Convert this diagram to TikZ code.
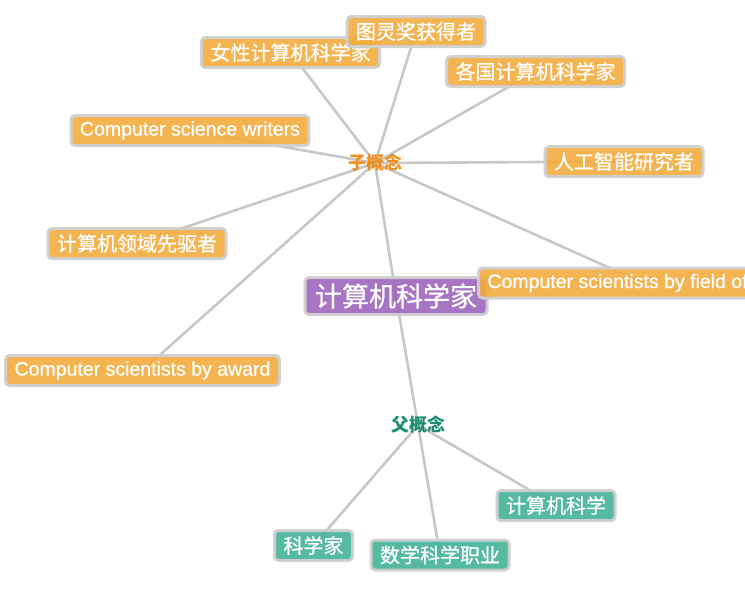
\documentclass[tikz,border=0pt]{standalone}
\usepackage{fontspec}
\setmainfont{Liberation Sans}
\newfontfamily\cjk{Noto Sans CJK SC}
\newfontfamily\cjkw[FakeBold=0.6]{Noto Sans CJK SC}
\newfontfamily\latw[FakeBold=0.6]{Liberation Sans}
\usetikzlibrary{backgrounds}
\definecolor{orangefill}{RGB}{243,172,62}
\definecolor{purplefill}{RGB}{158,102,190}
\definecolor{greenfill}{RGB}{68,178,152}
\definecolor{bordergray}{RGB}{208,208,208}
\definecolor{edgegray}{RGB}{200,200,200}
\definecolor{zicolor}{RGB}{240,142,30}
\definecolor{fucolor}{RGB}{30,140,110}
\tikzset{
  box/.style={rounded corners=4pt, draw=bordergray, line width=3pt,
    fill opacity=0.9, draw opacity=0.95, text opacity=1, text=white,
    inner xsep=9pt, inner ysep=0pt, minimum height=30pt},
  ocn/.style={box, fill=orangefill, font=\cjkw\fontsize{20}{20}\selectfont},
  olat/.style={box, fill=orangefill, font=\latw\fontsize{19.5}{20}\selectfont},
  gcn/.style={box, fill=greenfill, font=\cjkw\fontsize{20}{20}\selectfont},
  mainbox/.style={box, fill=purplefill, font=\cjkw\fontsize{27}{27}\selectfont,
    inner xsep=10pt, minimum height=37pt},
  label/.style={inner sep=0pt, font=\cjk\bfseries\fontsize{18}{18}\selectfont},
  edge/.style={draw=edgegray, line width=2.6pt}
}
\begin{document}
\begin{tikzpicture}[x=1pt,y=-1pt]
\useasboundingbox (0,0) rectangle (745,595);
\clip (0,0) rectangle (745,595);
% labels
\node[label, text=zicolor] (zi) at (375,163) {子概念};
\node[label, text=fucolor] (fu) at (418,425) {父概念};
% main node
\node[mainbox] (main) at (396,296) {计算机科学家};
% orange nodes
\node[ocn] (women) at (290.5,52.5) {女性计算机科学家};
\node[ocn] (turing) at (416,31.5) {图灵奖获得者};
\node[ocn] (countries) at (535.5,71.5) {各国计算机科学家};
\node[olat] (writers) at (190,130.5) {Computer science writers};
\node[ocn] (ai) at (624,161.5) {人工智能研究者};
\node[ocn] (pioneers) at (137,243.5) {计算机领域先驱者};
\node[olat, anchor=west] (field) at (477,283) {Computer scientists by field of study};
\node[olat] (award) at (142.5,370.5) {Computer scientists by award};
% green nodes
\node[gcn] (cs) at (556,505.5) {计算机科学};
\node[gcn] (sci) at (313.5,545.5) {科学家};
\node[gcn] (math) at (440,555) {数学科学职业};
% edges
\begin{scope}[on background layer]
\draw[edge] (zi.center) -- (turing.center);
\draw[edge] (zi.center) -- (women.center);
\draw[edge] (zi.center) -- (countries.center);
\draw[edge] (zi.center) -- (writers.center);
\draw[edge] (zi.center) -- (ai.center);
\draw[edge] (zi.center) -- (pioneers.center);
\draw[edge] (zi.center) -- (field.center);
\draw[edge] (zi.center) -- (award.center);
\draw[edge] (zi.center) -- (main.center);
\draw[edge] (main.center) -- (fu.center);
\draw[edge] (fu.center) -- (sci.center);
\draw[edge] (fu.center) -- (math.center);
\draw[edge] (fu.center) -- (cs.center);
\end{scope}
\end{tikzpicture}
\end{document}
